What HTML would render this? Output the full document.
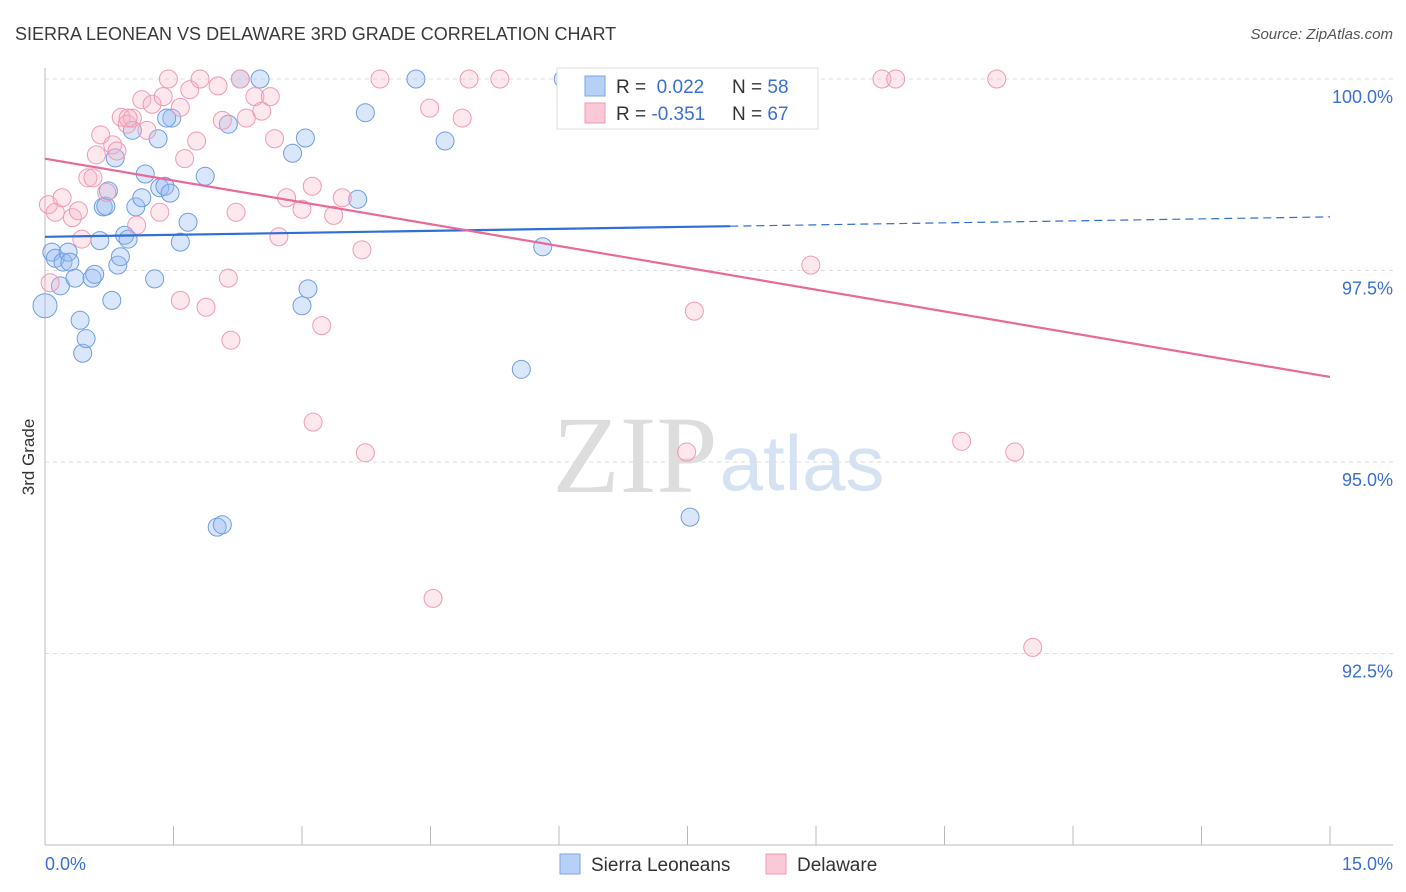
<!DOCTYPE html>
<html><head><meta charset="utf-8"><style>
body{margin:0;background:#fff;font-family:"Liberation Sans",sans-serif;}
svg{display:block}
</style></head><body>
<svg width="1406" height="892" id="chart">
<text x="15" y="40" font-size="18" fill="#3a3a3a">SIERRA LEONEAN VS DELAWARE 3RD GRADE CORRELATION CHART</text>
<text x="1393" y="39" font-size="15" fill="#555" text-anchor="end" font-style="italic">Source: ZipAtlas.com</text>
<text x="34" y="457" font-size="17" fill="#333" text-anchor="middle" transform="rotate(-90 34 457)">3rd Grade</text>
<g>
<text x="635" y="492" font-size="110" fill="#ddd" text-anchor="middle" font-family="Liberation Serif,serif">ZIP</text>
<text x="802" y="490" font-size="78" fill="#d5e2f3" text-anchor="middle">atlas</text>
</g>
<g id="grid"></g><g id="axes"></g><g id="pts"></g><g id="lines"></g>
<g>
<rect x="557" y="68" width="261" height="61" fill="#fff" stroke="#ddd"/>
<rect x="585" y="76" width="20" height="20" fill="#b7d0f5" stroke="#7aa6e6"/>
<rect x="585" y="103" width="20" height="20" fill="#fbc8d8" stroke="#f09ab5"/>
<text x="616" y="93" font-size="19" fill="#333">R = <tspan fill="#3a6fd4">&#160;0.022</tspan></text>
<text x="732" y="93" font-size="19" fill="#333">N = <tspan fill="#3a6fd4">58</tspan></text>
<text x="616" y="120" font-size="19" fill="#333">R = <tspan fill="#3a6fd4">-0.351</tspan></text>
<text x="732" y="120" font-size="19" fill="#333">N = <tspan fill="#3a6fd4">67</tspan></text>
</g>
<g>
<rect x="560" y="854" width="20" height="20" fill="#b7d0f5" stroke="#7aa6e6"/>
<text x="591" y="871" font-size="19" fill="#333">Sierra Leoneans</text>
<rect x="766" y="854" width="20" height="20" fill="#fbc8d8" stroke="#f09ab5"/>
<text x="797" y="871" font-size="19" fill="#333">Delaware</text>
</g>
</svg>
<script>
const blueX=[0,.08,.12,.18,.21,.27,.29,.35,.41,.44,.48,.55,.58,.64,.68,.71,.74,.78,.82,.85,.88,.93,.97,1.02,1.06,1.13,1.17,1.28,1.32,1.34,1.40,1.46,1.48,1.58,1.67,1.87,2.01,2.07,2.14,2.28,2.51,2.89,3.00,3.04,3.07,3.65,3.74,4.33,4.67,5.56,5.81,6.05,7.53,1.42];
const blueY=[97.04,97.74,97.66,97.30,97.61,97.74,97.61,97.40,96.85,96.42,96.61,97.40,97.45,97.89,98.33,98.34,98.54,97.11,98.97,97.57,97.68,97.96,97.91,99.33,98.33,98.45,98.76,97.39,99.22,98.58,98.60,98.51,99.49,97.87,98.13,98.73,94.15,94.18,99.41,100,100,99.03,97.04,99.23,97.26,98.43,99.56,100,99.19,96.21,97.81,100,94.28,99.49];
const pinkX=[.04,.06,.12,.20,.32,.39,.43,.50,.56,.60,.65,.72,.79,.84,.89,.96,1.02,1.07,1.13,1.19,1.25,1.34,1.38,1.44,1.58,1.63,1.69,1.77,1.81,1.88,2.02,2.07,2.14,2.17,2.23,2.28,2.35,2.45,2.53,2.63,2.68,2.73,2.82,3.00,3.12,3.23,3.37,3.47,3.70,3.74,3.13,3.91,4.49,4.53,4.87,4.95,5.31,7.49,7.58,8.94,9.77,9.93,10.70,11.11,11.32,11.53,1.58,0.97];
const pinkY=[98.36,97.34,98.26,98.45,98.19,98.28,97.91,98.71,98.71,99.01,99.27,98.52,99.14,99.06,99.50,99.41,99.49,98.09,99.73,99.33,99.67,98.26,99.77,100,99.63,98.96,99.86,99.19,100,97.02,99.91,99.46,97.40,96.59,98.26,100,99.49,99.77,99.58,99.77,99.22,97.94,98.45,98.30,98.60,96.78,98.22,98.45,97.77,95.12,95.52,100,99.62,93.22,99.49,100,100,95.13,96.97,97.57,100,100,95.27,100,95.13,92.58,97.11,99.49];
const yTicks=[100,97.5,95,92.5];
const yTickLabels=["100.0%","97.5%","95.0%","92.5%"];
const xTicks=[0,1.5,3,4.5,6,7.5,9,10.5,12,13.5,15];
const blueTrend=[97.94,98.20];
const pinkTrend=[98.96,96.11];
const blueSolidEnd=8.0;

const NS="http://www.w3.org/2000/svg";
const X0=45,X1=1330,Y100=79,PXPER=76.6;
const sx=v=>X0+(v/15)*(X1-X0);
const sy=v=>Y100+(100-v)*PXPER;
function mk(tag,attrs,parent){const e=document.createElementNS(NS,tag);for(const k in attrs)e.setAttribute(k,attrs[k]);document.getElementById(parent).appendChild(e);return e;}

yTicks.forEach((t,i)=>{
 const g=mk('line',{x1:X0,x2:1393,y1:sy(t),y2:sy(t),stroke:'#ddd','stroke-dasharray':'4,4'},'grid');
 
 
 const l=mk('text',{x:1393,y:sy(t)+24,'font-size':18,fill:'#3a6fd4','text-anchor':'end'},'grid');
 l.textContent=yTickLabels[i];
 
 
});
const ya=mk('line',{x1:X0,x2:X0,y1:68,y2:845,stroke:'#bbb'},'axes');


const xa=mk('line',{x1:X0,x2:1393,y1:845,y2:845,stroke:'#bbb'},'axes');


xTicks.forEach(t=>{
 const k=mk('line',{x1:sx(t),x2:sx(t),y1:826,y2:845,stroke:'#bbb'},'axes');
 
 
});
const xl0=mk('text',{x:45,y:870,'font-size':18,fill:'#3a6fd4'},'axes');xl0.textContent='0.0%';


const xl1=mk('text',{x:1393,y:870,'font-size':18,fill:'#3a6fd4','text-anchor':'end'},'axes');xl1.textContent='15.0%';



blueX.forEach((x,i)=>{
 const c=mk('circle',{cx:sx(x),cy:sy(blueY[i]),r:(i===0?12:9),fill:'rgba(150,185,240,0.35)',stroke:'#6f9de3','stroke-width':1},'pts');
 
 
});
pinkX.forEach((x,i)=>{
 const c=mk('circle',{cx:sx(x),cy:sy(pinkY[i]),r:9,fill:'rgba(248,180,200,0.3)',stroke:'#ef9ab4','stroke-width':1},'pts');
 
 
});
const bAt=x=>blueTrend[0]+(blueTrend[1]-blueTrend[0])*x/15;
const b1=mk('line',{x1:sx(0),y1:sy(bAt(0)),x2:sx(blueSolidEnd),y2:sy(bAt(blueSolidEnd)),stroke:'#2f6fd6','stroke-width':2.2},'lines');


const b2=mk('line',{x1:sx(blueSolidEnd),y1:sy(bAt(blueSolidEnd)),x2:sx(15),y2:sy(bAt(15)),stroke:'#2f6fd6','stroke-width':1.2,'stroke-dasharray':'8,5'},'lines');


const p1=mk('line',{x1:sx(0),y1:sy(pinkTrend[0]),x2:sx(15),y2:sy(pinkTrend[1]),stroke:'#e8699a','stroke-width':2.2},'lines');


</script>
</body></html>
